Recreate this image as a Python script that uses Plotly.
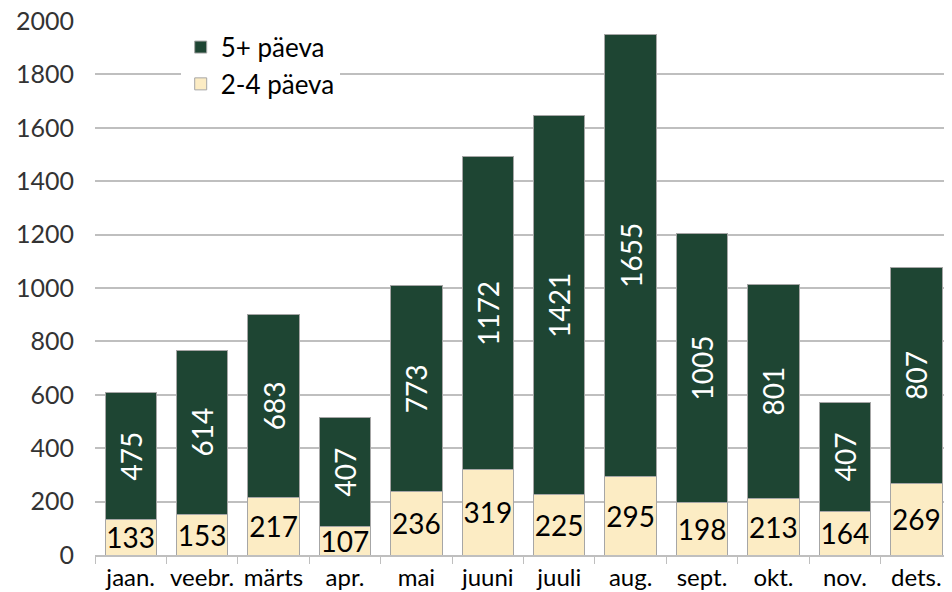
import plotly.graph_objects as go

months = ["jaan.", "veebr.", "märts", "apr.", "mai", "juuni", "juuli", "aug.", "sept.", "okt.", "nov.", "dets."]
short_stay = [133, 153, 217, 107, 236, 319, 225, 295, 198, 213, 164, 269]
long_stay = [475, 614, 683, 407, 773, 1172, 1421, 1655, 1005, 801, 407, 807]
y_ticks = list(range(0, 2001, 200))

FONT = "Lato"
DARK = "#1E4533"
LIGHT = "#FCECC4"

fig = go.Figure()
fig.add_trace(go.Bar(
    x=months, y=short_stay, name="2-4 päeva",
    marker=dict(color=LIGHT, line=dict(color="#A6A6A6", width=1)),
    text=[str(v) for v in short_stay], textposition="inside", insidetextanchor="middle",
    textangle=0, constraintext="none",
    textfont=dict(color="black", size=28, family=FONT),
))
fig.add_trace(go.Bar(
    x=months, y=long_stay, name="5+ päeva",
    marker=dict(color=DARK, line=dict(color="#A6A6A6", width=1)),
    text=[str(v) for v in long_stay], textposition="inside", insidetextanchor="middle",
    textangle=-90, constraintext="none",
    textfont=dict(color="white", size=28, family=FONT),
))

# page body has an 8px margin, so the figure is 8px smaller than the window
fig.update_layout(
    barmode="stack", bargap=0.28,
    width=944, height=584,
    margin=dict(l=87, r=0, t=13, b=37),
    paper_bgcolor="white", plot_bgcolor="white",
    font=dict(family=FONT, color="#333333"),
    uniformtext=dict(minsize=28, mode="show"),
    legend=dict(
        x=0.1, y=0.995, xanchor="left", yanchor="top",
        bgcolor="white", traceorder="reversed",
        font=dict(size=26, color="black", family=FONT),
        itemwidth=30, tracegroupgap=0,
    ),
    showlegend=True,
)
fig.update_yaxes(
    range=[0, 2000], tickvals=y_ticks, showgrid=True, gridcolor="#BFBFBF", gridwidth=1.5,
    zeroline=False, showline=False, ticks="",
    tickfont=dict(size=25, color="#333333", family=FONT), ticklabelstandoff=20,
    ticklabeloverflow="allow", automargin=False,
)
fig.update_xaxes(
    showline=True, linecolor="#BFBFBF", linewidth=1.5,
    ticks="outside", tickson="boundaries", ticklen=7, tickcolor="#BFBFBF",
    tickfont=dict(size=24, color="black", family=FONT), tickangle=0,
    automargin=False,
)

fig.write_html("out.html")
